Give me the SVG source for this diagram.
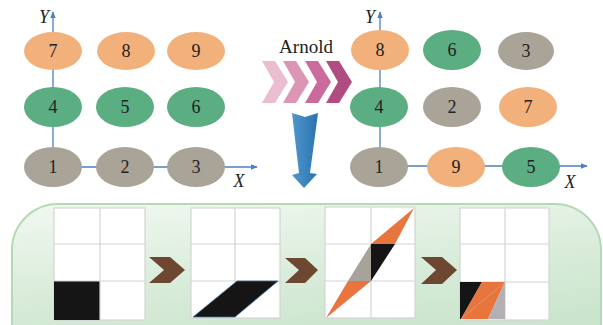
<svg xmlns="http://www.w3.org/2000/svg" width="603" height="325" viewBox="0 0 603 325">
<defs>
<style>
.o{fill:#f2b07b}
.g{fill:#5bad82}
.y{fill:#a9a497}
.n{font-family:"Liberation Serif",serif;font-size:18px;fill:#222;text-anchor:middle}
.ax{font-family:"Liberation Serif",serif;font-size:18px;font-style:italic;fill:#222;text-anchor:middle}
.ar{font-family:"Liberation Serif",serif;font-size:19px;fill:#222;text-anchor:middle}
.axis{stroke:#4d7fc2;stroke-width:1.3;fill:none}
.grid{fill:#fff;stroke:#d4d4d4;stroke-width:1.2}
.gl{stroke:#d4d4d4;stroke-width:1.2}
.br{fill:#6e4731}
</style>
<marker id="ah" viewBox="0 0 10 10" refX="9" refY="5" markerWidth="7" markerHeight="7" orient="auto" markerUnits="userSpaceOnUse">
<path d="M0,1 L10,5 L0,9 Z" fill="#4d7fc2"/>
</marker>
<linearGradient id="pg" x1="0" y1="0" x2="0.3" y2="1">
<stop offset="0" stop-color="#f1f8f1"/>
<stop offset="0.5" stop-color="#d9ecda"/>
<stop offset="1" stop-color="#c6e3c8"/>
</linearGradient>
<linearGradient id="bg" x1="0" y1="0" x2="1" y2="0">
<stop offset="0" stop-color="#4f98cc"/>
<stop offset="1" stop-color="#2a72b0"/>
</linearGradient>
</defs>

<g id="connectors">
<line class="axis" x1="53" y1="167" x2="53" y2="12" marker-end="url(#ah)"/>
<line class="axis" x1="53" y1="167" x2="257" y2="167" marker-end="url(#ah)"/>
<line class="axis" x1="380" y1="167" x2="380" y2="12" marker-end="url(#ah)"/>
<line class="axis" x1="380" y1="166" x2="587" y2="166" marker-end="url(#ah)"/>
</g>

<text class="ax" x="44" y="23">Y</text>
<text class="ax" x="239" y="187">X</text>
<text class="ax" x="370" y="23">Y</text>
<text class="ax" x="570" y="188">X</text>

<g id="L7"><ellipse class="o" cx="53" cy="51" rx="29" ry="19"/><text class="n" x="53" y="57">7</text></g>
<g id="L8"><ellipse class="o" cx="126" cy="51" rx="29" ry="19"/><text class="n" x="126" y="57">8</text></g>
<g id="L9"><ellipse class="o" cx="196" cy="51" rx="29" ry="19"/><text class="n" x="196" y="57">9</text></g>
<g id="L4"><ellipse class="g" cx="53" cy="107" rx="29" ry="20"/><text class="n" x="53" y="113">4</text></g>
<g id="L5"><ellipse class="g" cx="125" cy="107" rx="29" ry="20"/><text class="n" x="125" y="113">5</text></g>
<g id="L6"><ellipse class="g" cx="196" cy="107" rx="29" ry="20"/><text class="n" x="196" y="113">6</text></g>
<g id="L1"><ellipse class="y" cx="53" cy="167" rx="29" ry="20"/><text class="n" x="53" y="173">1</text></g>
<g id="L2"><ellipse class="y" cx="125" cy="167" rx="29" ry="20"/><text class="n" x="125" y="173">2</text></g>
<g id="L3"><ellipse class="y" cx="196" cy="167" rx="29" ry="20"/><text class="n" x="196" y="173">3</text></g>

<g id="R8"><ellipse class="o" cx="380" cy="50" rx="29" ry="20"/><text class="n" x="380" y="56">8</text></g>
<g id="R6"><ellipse class="g" cx="452" cy="50" rx="29" ry="20"/><text class="n" x="452" y="56">6</text></g>
<g id="R3"><ellipse class="y" cx="526" cy="51" rx="28" ry="19"/><text class="n" x="526" y="57">3</text></g>
<g id="R4"><ellipse class="g" cx="379" cy="107" rx="29" ry="20"/><text class="n" x="379" y="113">4</text></g>
<g id="R2"><ellipse class="y" cx="452" cy="107" rx="29" ry="20"/><text class="n" x="452" y="113">2</text></g>
<g id="R7"><ellipse class="o" cx="528" cy="107" rx="29" ry="20"/><text class="n" x="528" y="113">7</text></g>
<g id="R1"><ellipse class="y" cx="379" cy="167" rx="29" ry="20"/><text class="n" x="379" y="173">1</text></g>
<g id="R9"><ellipse class="o" cx="456" cy="167" rx="29" ry="20"/><text class="n" x="456" y="173">9</text></g>
<g id="R5"><ellipse class="g" cx="531" cy="167" rx="29" ry="20"/><text class="n" x="531" y="173">5</text></g>

<g id="arnold">
<text class="ar" x="306" y="53">Arnold</text>
<path d="M262,61 L275,61 L288,82 L275,103 L262,103 L274,82 Z" fill="#ebbdd0"/>
<path d="M283,61 L296,61 L309,82 L296,103 L283,103 L295,82 Z" fill="#dc95b4"/>
<path d="M305,61 L318,61 L331,82 L318,103 L305,103 L317,82 Z" fill="#cb6a9c"/>
<path d="M326,61 L339,61 L352,82 L339,103 L326,103 L338,82 Z" fill="#b04c80"/>
</g>

<g id="down-arrow">
<path d="M292,113 L305,117 L318,113 L310,173 L317,174 L304,188 L292,175 L299,173 Z" fill="url(#bg)"/>
</g>

<g id="panel">
<rect x="12" y="204" width="589" height="170" rx="46" ry="46" fill="url(#pg)" stroke="#b3d9b5" stroke-width="2"/>
</g>

<g id="grid1">
<rect class="grid" x="54" y="208" width="91" height="112"/>
<rect x="54" y="281" width="46" height="39" fill="#151515"/>
<line class="gl" x1="100" y1="208" x2="100" y2="320"/>
<line class="gl" x1="54" y1="244" x2="145" y2="244"/>
<line class="gl" x1="54" y1="281" x2="145" y2="281"/>
</g>

<g id="grid2">
<rect class="grid" x="191" y="208" width="89" height="110"/>
<line class="gl" x1="235" y1="208" x2="235" y2="318"/>
<line class="gl" x1="191" y1="244" x2="280" y2="244"/>
<line class="gl" x1="191" y1="281" x2="280" y2="281"/>
<path d="M193,317 L235,317 L278,281 L237,281 Z" fill="#151515" stroke="#3d6f9a" stroke-width="0.8"/>
</g>

<g id="grid3">
<rect class="grid" x="325" y="207" width="90" height="111"/>
<line class="gl" x1="371" y1="207" x2="371" y2="318"/>
<line class="gl" x1="325" y1="244" x2="415" y2="244"/>
<line class="gl" x1="325" y1="281" x2="415" y2="281"/>
<path d="M326,318 L348,281 L371,281 Z" fill="#e8743e"/>
<path d="M348,281 L371,281 L371,244 Z" fill="#a8a39a"/>
<path d="M371,244 L395,244 L371,281 Z" fill="#151515"/>
<path d="M371,244 L395,244 L414,208 Z" fill="#e8743e"/>
</g>

<g id="grid4">
<rect class="grid" x="460" y="208" width="89" height="112"/>
<line class="gl" x1="505" y1="208" x2="505" y2="320"/>
<line class="gl" x1="460" y1="244" x2="549" y2="244"/>
<line class="gl" x1="460" y1="282" x2="549" y2="282"/>
<path d="M460,282 L482,282 L461,319 L460,319 Z" fill="#151515"/>
<path d="M482,282 L505,282 L488,319 L461,319 Z" fill="#e8743e"/>
<path d="M505,282 L505,319 L488,319 Z" fill="#b2b0b3"/>
<line x1="462" y1="318" x2="504" y2="283" stroke="#d99a80" stroke-width="0.8"/>
</g>

<g id="chevrons">
<path class="br" d="M149,257 L170,257 L185,270 L170,283 L149,283 L164,270 Z"/>
<path class="br" d="M285,258 L305,258 L318,270 L305,283 L285,283 L299,270 Z"/>
<path class="br" d="M421,257 L442,257 L457,270 L442,284 L421,284 L436,270 Z"/>
</g>
</svg>
